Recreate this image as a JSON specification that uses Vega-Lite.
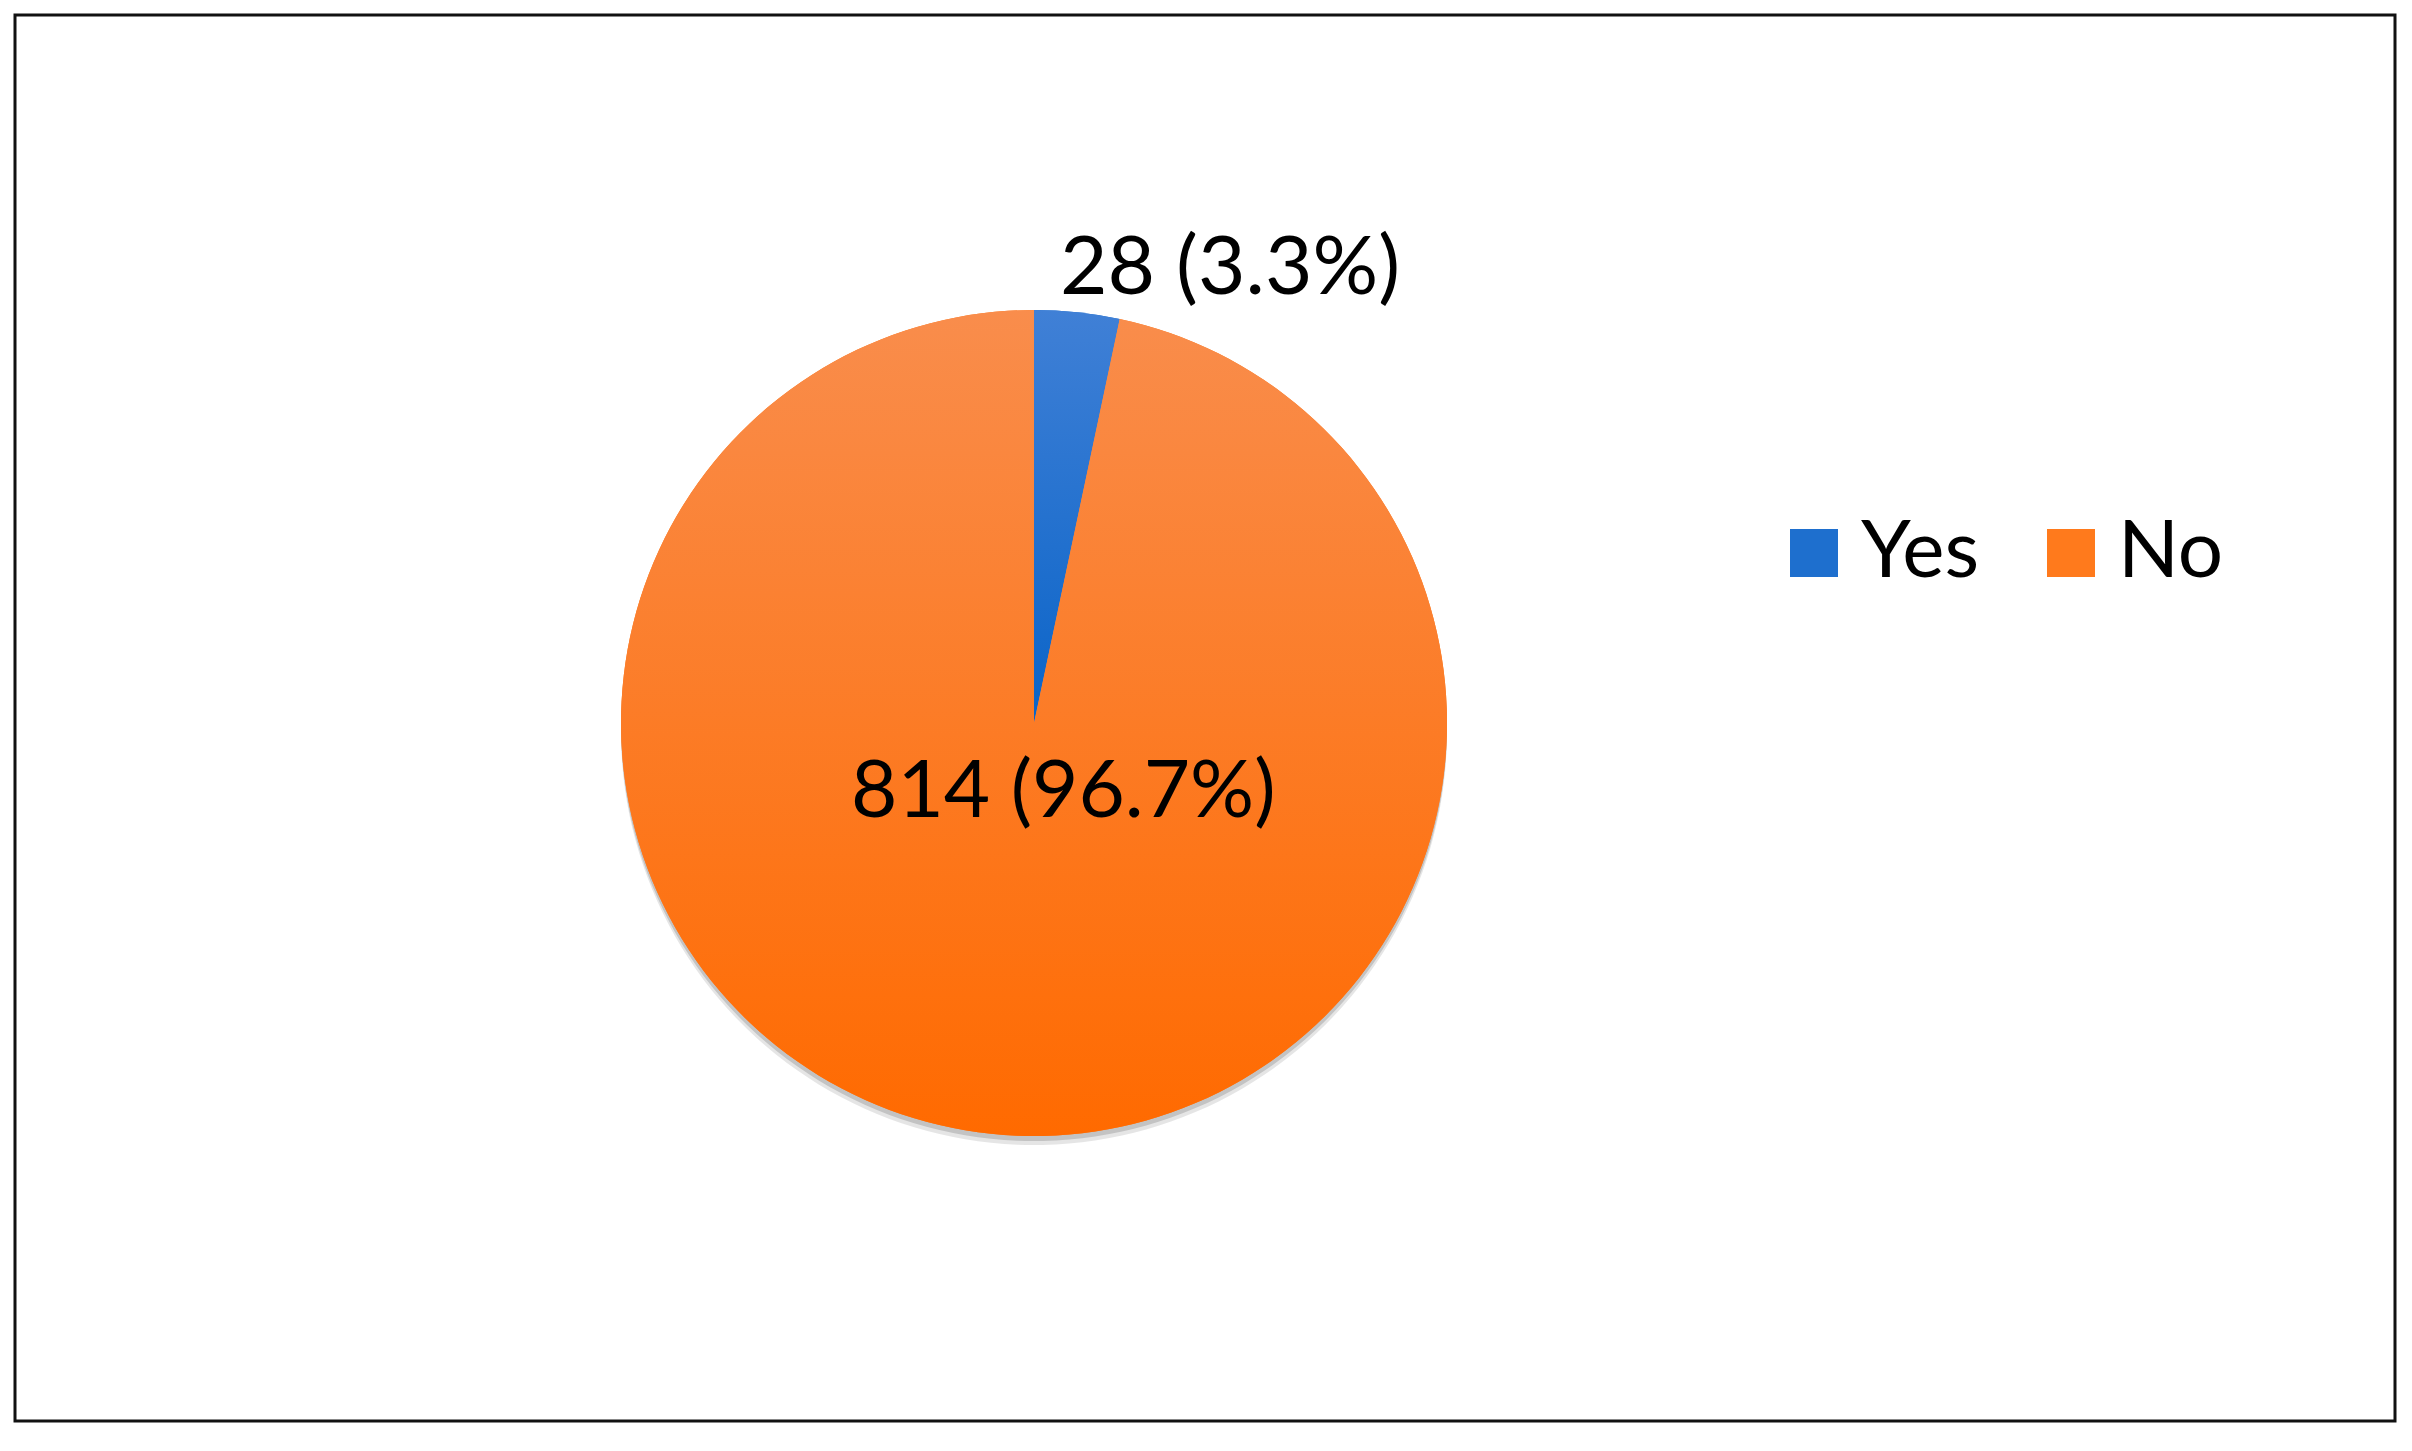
{
  "$schema": "https://vega.github.io/schema/vega-lite/v6.json",
  "width": 2380,
  "height": 1406,
  "autosize": {"type": "none"},
  "padding": {"left": 15, "top": 15, "right": 17, "bottom": 30},
  "background": "white",
  "config": {
    "view": {"stroke": null},
    "font": "Lato"
  },
  "data": {
    "values": [
      {"answer": "Yes", "count": 28, "label": "28 (3.3%)", "rank": 1},
      {"answer": "No", "count": 814, "label": "814 (96.7%)", "rank": 2}
    ]
  },
  "layer": [
    {
      "data": {"values": [{"frame": "border"}]},
      "mark": {"type": "rect", "x": 0, "y": 0, "x2": "width", "y2": "height", "fill": "transparent", "stroke": "#111111", "strokeWidth": 3},
      "encoding": {}
    },
    {
      "encoding": {
        "theta": {"field": "count", "type": "quantitative", "stack": true},
        "order": {"field": "rank", "type": "quantitative"}
      },
      "layer": [
        {
          "mark": {"type": "arc", "x": 1019, "y": 717, "radius": 413, "fill": "#000000", "opacity": 0.1},
          "encoding": {"detail": {"field": "answer"}}
        },
        {
          "mark": {"type": "arc", "x": 1019, "y": 713, "radius": 413, "fill": "#000000", "opacity": 0.15},
          "encoding": {"detail": {"field": "answer"}}
        },
        {
          "mark": {"type": "arc", "x": 1019, "y": 708, "radius": 413},
          "encoding": {
            "color": {
              "field": "answer",
              "type": "nominal",
              "scale": {"domain": ["Yes", "No"], "range": ["#1E6FCE", "#FF7A1C"]},
              "legend": {
                "title": null,
                "orient": "none",
                "legendX": 1759,
                "legendY": 498,
                "direction": "horizontal",
                "symbolType": "square",
                "symbolSize": 2304,
                "symbolStrokeWidth": 0,
                "labelFont": "Lato",
                "labelFontSize": 80,
                "labelColor": "#000000",
                "labelOffset": 7,
                "columnPadding": 51,
                "labelLimit": 400
              }
            }
          }
        },
        {
          "mark": {"type": "arc", "x": 1019, "y": 708, "radius": 413},
          "encoding": {
            "detail": {"field": "answer"},
            "fill": {
              "condition": {
                "test": "datum.answer === 'Yes'",
                "value": {
                  "gradient": "linear", "x1": 0, "y1": 0, "x2": 0, "y2": 1,
                  "stops": [{"offset": 0, "color": "#4080D6"}, {"offset": 1, "color": "#0A64C8"}]
                }
              },
              "value": {
                "gradient": "linear", "x1": 0, "y1": 0, "x2": 0, "y2": 1,
                "stops": [{"offset": 0, "color": "#F98D4C"}, {"offset": 1, "color": "#FF6A00"}]
              }
            }
          }
        },
        {
          "transform": [{"filter": "datum.answer === 'Yes'"}],
          "mark": {"type": "text", "x": 1019, "y": 708, "radius": 470, "dx": 147, "dy": 13, "font": "Lato", "fontSize": 82, "color": "#000000", "baseline": "middle", "align": "center"},
          "encoding": {"text": {"field": "label"}, "detail": {"field": "answer"}}
        },
        {
          "transform": [{"filter": "datum.answer === 'No'"}],
          "mark": {"type": "text", "x": 1019, "y": 708, "radius": 70, "dx": 22, "dy": 0, "font": "Lato", "fontSize": 80, "color": "#000000", "baseline": "middle", "align": "center"},
          "encoding": {"text": {"field": "label"}, "detail": {"field": "answer"}}
        }
      ]
    }
  ]
}
